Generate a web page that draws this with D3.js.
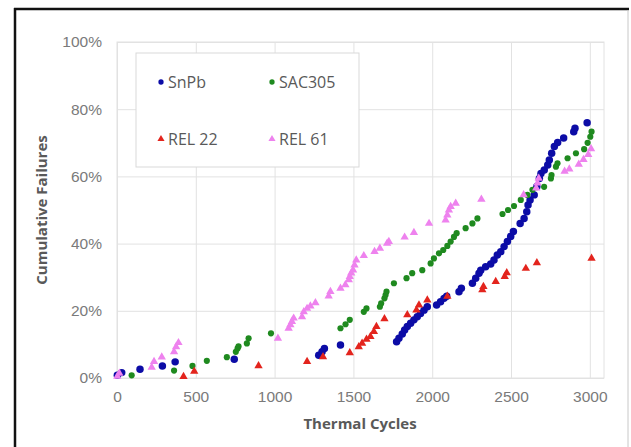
<!DOCTYPE html>
<html>
<head>
<meta charset="utf-8">
<script src="https://cdn.jsdelivr.net/npm/d3@7"></script>
<style>
	body { margin: 0; background: #fff; }
	svg { display: block; font-family: "Open Sans", sans-serif; }
</style>
</head>
<body>
<div id="chart"></div>
<script>
// cycles, cumulative failure %
const snpb = [
	[2, 0.8], [30, 1.6], [146, 2.6], [288, 3.6], [369, 4.8], [744, 5.6],
	[1280, 6.8], [1301, 7.8], [1316, 8.8], [1418, 9.8],
	[1774, 10.8], [1789, 11.8], [1810, 13.1], [1825, 14.3], [1842, 15.3], [1863, 16.3],
	[1884, 17.3], [1905, 18.2], [1926, 19.2], [1948, 20.2], [1969, 21.2],
	[2028, 21.7], [2053, 22.7], [2075, 23.7], [2092, 24.3], [2170, 25.7], [2185, 26.7],
	[2255, 28.2], [2276, 29.7], [2297, 31.2], [2308, 32.1], [2339, 33.1], [2371, 33.9],
	[2392, 35.1], [2413, 36.6], [2435, 37.6], [2456, 39.1], [2477, 40.6], [2498, 42.1],
	[2515, 43.6], [2558, 46], [2583, 47.5], [2600, 49.5], [2608, 51.5], [2621, 53],
	[2647, 54.5], [2664, 57], [2680, 59.4], [2690, 60.9], [2711, 61.9], [2733, 63.4],
	[2743, 64.9], [2758, 66.9], [2775, 68.9], [2796, 70.1], [2834, 71.4], [2898, 73.3],
	[2906, 74.3], [2983, 76]
];
const sac305 = [
	[93, 0.8], [362, 2.2], [479, 3.6], [570, 5.1], [697, 6.2], [754, 7.8], [765, 8.8],
	[771, 9.4], [824, 10.3], [835, 11.8], [977, 13.3],
	[1418, 14.8], [1450, 16], [1477, 17.3], [1566, 19.7], [1583, 20.7], [1668, 21.2],
	[1676, 22.2], [1697, 23.7], [1704, 24.7], [1710, 25.7], [1757, 28.2], [1837, 29.7],
	[1873, 31.2], [1937, 32.1], [1990, 34.1], [2011, 35.6], [2043, 37.1], [2070, 38.1],
	[2096, 39.3], [2117, 40.6], [2138, 42], [2155, 43.1], [2212, 44.6], [2255, 46],
	[2287, 47.5], [2446, 48.8], [2481, 50], [2519, 51.2], [2562, 53], [2604, 54.5],
	[2636, 56], [2710, 56.9], [2753, 59.4], [2757, 60.4], [2785, 62.9], [2795, 63.9],
	[2859, 65.4], [2912, 66.9], [2964, 68.1], [2986, 70], [3003, 71.8], [3011, 73.3]
];
const rel22 = [
	[422, 0.4], [490, 2], [898, 3.6], [1206, 4.9], [1307, 6.3], [1477, 7.5],
	[1534, 9.3], [1555, 10.3], [1583, 11.5], [1608, 12.3], [1630, 13.8], [1646, 15.3],
	[1697, 17.6], [1842, 18.8], [1900, 20.2], [1916, 21.7], [1969, 23.2], [2096, 24.3],
	[2318, 26.2], [2325, 27.2], [2403, 28.7], [2460, 30.2], [2473, 31.3], [2594, 32.6],
	[2664, 34.3], [3011, 35.6]
];
const rel61 = [
	[2, 0.5], [15, 1.4], [220, 3.2], [235, 4.9], [284, 6.2], [362, 7.8], [375, 9.3],
	[390, 10.5], [1021, 11.8], [1089, 14.8], [1100, 15.8], [1110, 16.8], [1121, 17.8],
	[1174, 18.2], [1185, 19.7], [1206, 20.7], [1227, 21.4], [1259, 22.4], [1343, 24.4],
	[1354, 25.7], [1418, 26.7], [1449, 27.7], [1471, 29.2], [1477, 30.2], [1486, 31.2],
	[1498, 32.1], [1507, 33.6], [1518, 35.1], [1566, 36.4], [1634, 37.6], [1668, 38.6],
	[1714, 40.1], [1725, 40.6], [1825, 41.9], [1884, 43.3], [1980, 46], [2085, 47],
	[2096, 48.5], [2106, 50], [2117, 51], [2149, 52], [2312, 53.2],
	[2580, 54.5], [2660, 56.5], [2668, 58], [2676, 59.4], [2840, 61.5], [2870, 62.2],
	[2930, 63.6], [2960, 65], [2990, 66.5], [3008, 68.2]
];
const seriesNames = ['SnPb', 'SAC305', 'REL 22', 'REL 61'];
const xTicks = [0, 500, 1000, 1500, 2000, 2500, 3000];
const yTicks = [0, 20, 40, 60, 80, 100];

const width = 631, height = 447;
const plot = {left: 117, right: 604, top: 42, bottom: 378};

const series = [
	{name: seriesNames[0], data: snpb, color: '#0c0ca6', symbol: d3.symbolCircle, size: 44},
	{name: seriesNames[1], data: sac305, color: '#1f8a1f', symbol: d3.symbolCircle, size: 30},
	{name: seriesNames[2], data: rel22, color: '#e3241d', symbol: d3.symbolTriangle, size: 30},
	{name: seriesNames[3], data: rel61, color: '#ee82ee', symbol: d3.symbolTriangle, size: 30}
];

const svg = d3.select('#chart').append('svg')
	.attr('width', width)
	.attr('height', height);

const x = d3.scaleLinear().domain([0, 3090]).range([plot.left, plot.right]);
const y = d3.scaleLinear().domain([0, 100]).range([plot.bottom, plot.top]);

// frame
svg.append('line').attr('x1', 15).attr('x2', 15).attr('y1', 8).attr('y2', height)
	.attr('stroke', '#111').attr('stroke-width', 2.5);
svg.append('line').attr('x1', 14).attr('x2', 629).attr('y1', 9).attr('y2', 9)
	.attr('stroke', '#111').attr('stroke-width', 2.5);
svg.append('line').attr('x1', 628).attr('x2', 628).attr('y1', 10).attr('y2', height)
	.attr('stroke', '#c8c8c8').attr('stroke-width', 1);

// plot area + grid
svg.append('rect')
	.attr('x', plot.left).attr('y', plot.top)
	.attr('width', plot.right - plot.left).attr('height', plot.bottom - plot.top)
	.attr('fill', 'none').attr('stroke', '#e2e2e2');

svg.append('g')
	.attr('transform', `translate(0, ${plot.bottom})`)
	.call(d3.axisBottom(x).tickValues(xTicks).tickFormat(d3.format('d'))
		.tickSize(-(plot.bottom - plot.top)).tickPadding(13))
	.call(g => g.select('.domain').remove())
	.call(g => g.selectAll('.tick line').attr('stroke', '#e2e2e2'))
	.call(g => g.selectAll('.tick text').attr('fill', '#7a7a7a').style('font-size', '15.5px'));

svg.append('g')
	.attr('transform', `translate(${plot.left}, 0)`)
	.call(d3.axisLeft(y).tickValues(yTicks).tickFormat(d => d + '%')
		.tickSize(-(plot.right - plot.left)).tickPadding(15))
	.call(g => g.select('.domain').remove())
	.call(g => g.selectAll('.tick line').attr('stroke', '#e2e2e2'))
	.call(g => g.selectAll('.tick text').attr('fill', '#7a7a7a').style('font-size', '15.5px'));

// axis titles
svg.append('text')
	.attr('x', 360).attr('y', 429)
	.attr('text-anchor', 'middle')
	.attr('fill', '#595959').attr('font-weight', 'bold').style('font-size', '15px')
	.text('Thermal Cycles');

svg.append('text')
	.attr('transform', 'translate(47, 210) rotate(-90)')
	.attr('text-anchor', 'middle')
	.attr('fill', '#595959').attr('font-weight', 'bold').style('font-size', '15px')
	.text('Cumulative Failures');

// legend
const legend = svg.append('g');
legend.append('rect')
	.attr('x', 136).attr('y', 53).attr('width', 223).attr('height', 114)
	.attr('fill', '#fff').attr('stroke', '#d9d9d9');

const legendPos = [[161, 82], [272, 82], [161, 139], [272, 139]];
series.forEach((s, i) => {
	const [lx, ly] = legendPos[i];
	legend.append('path')
		.attr('transform', `translate(${lx}, ${ly})`)
		.attr('d', d3.symbol().type(s.symbol).size(22)())
		.attr('fill', s.color);
	legend.append('text')
		.attr('x', lx + 7).attr('y', ly + 6)
		.attr('fill', '#595959').style('font-size', '16px')
		.text(s.name);
});

// points
series.forEach(s => {
	svg.append('g').selectAll('path')
		.data(s.data)
		.enter()
		.append('path')
		.attr('transform', d => `translate(${x(d[0])}, ${y(d[1])})`)
		.attr('d', d3.symbol().type(s.symbol).size(s.size)())
		.attr('fill', s.color);
});
</script>
</body>
</html>
